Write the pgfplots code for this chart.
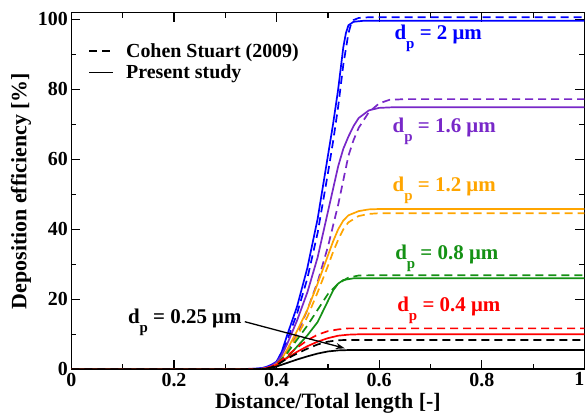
\documentclass[border=0pt]{standalone}
\usepackage{pgfplots}
\pgfplotsset{compat=1.18}
\usepackage{pgfplotstable}
\usepackage{fontspec}
\setmainfont{Liberation Serif}
\usetikzlibrary{arrows.meta}
\definecolor{cblue}{RGB}{0,0,255}
\definecolor{cpurple}{RGB}{120,40,200}
\definecolor{corange}{RGB}{255,165,0}
\definecolor{cgreen}{RGB}{20,145,20}
\definecolor{cred}{RGB}{255,0,0}

\pgfplotstableread{
x y
0 0
0.30 0
0.35 0.1
0.37 0.3
0.38 0.7
0.39 1.3
0.40 2.2
0.41 5
0.42 9.5
0.44 18
0.46 29
0.48 43
0.50 61
0.51 70
0.52 80
0.53 92
0.535 96
0.54 98.3
0.55 99.3
0.57 99.6
1.0 99.6
}\bluesolid
\pgfplotstableread{
x y
0 0
0.30 0
0.36 0.1
0.38 0.5
0.39 1.0
0.40 2.0
0.41 4
0.42 8
0.44 16
0.46 26
0.48 39
0.50 56
0.51 65
0.52 75
0.53 87
0.54 96
0.545 98.6
0.55 99.8
0.56 100.4
0.58 100.6
1.0 100.6
}\bluedash
\pgfplotstableread{
x y
0 0
0.30 0
0.37 0.2
0.38 0.5
0.39 1.0
0.40 2.0
0.41 4
0.42 7
0.44 14
0.46 22
0.48 32
0.50 45
0.52 58
0.53 63
0.54 66.5
0.55 69.5
0.56 71.8
0.58 74
0.60 74.7
0.63 74.9
1.0 74.9
}\purplesolid
\pgfplotstableread{
x y
0 0
0.30 0
0.37 0.1
0.38 0.4
0.39 0.8
0.40 1.5
0.41 3
0.42 5
0.44 10
0.46 17
0.48 25
0.50 35
0.52 47
0.53 54
0.54 61
0.55 65.5
0.56 69
0.58 73.5
0.60 76
0.62 77
0.65 77.2
1.0 77.2
}\purpledash
\pgfplotstableread{
x y
0 0
0.30 0
0.37 0.1
0.38 0.3
0.39 0.7
0.40 1.5
0.41 3
0.42 5.5
0.44 11
0.46 17
0.48 24.5
0.50 32.5
0.51 36.5
0.52 40
0.53 42.5
0.54 44
0.56 45.2
0.58 45.7
0.60 45.8
1.0 45.8
}\orangesolid
\pgfplotstableread{
x y
0 0
0.30 0
0.37 0.1
0.38 0.2
0.39 0.5
0.40 1.2
0.41 2.5
0.42 4.5
0.44 9.5
0.46 15
0.48 22
0.50 29.5
0.51 33.5
0.52 37
0.53 40
0.54 42
0.56 43.8
0.58 44.4
0.60 44.6
1.0 44.6
}\orangedash
\pgfplotstableread{
x y
0 0
0.30 0
0.37 0.1
0.38 0.2
0.39 0.5
0.40 1.0
0.42 3.3
0.44 6.5
0.46 9.7
0.48 13.5
0.50 19.5
0.51 22.5
0.52 24.5
0.53 25.5
0.55 26
1.0 26
}\greensolid
\pgfplotstableread{
x y
0 0
0.30 0
0.37 0.1
0.38 0.2
0.39 0.6
0.40 1.5
0.42 4.5
0.44 8.5
0.46 12.5
0.48 17
0.50 21.5
0.52 24.5
0.54 26.2
0.56 26.8
0.60 26.9
1.0 26.9
}\greendash
\pgfplotstableread{
x y
0 0
0.30 0
0.37 0.1
0.38 0.3
0.39 0.7
0.40 1.3
0.42 3.2
0.44 5
0.46 6.6
0.48 7.9
0.50 8.9
0.52 9.6
0.54 9.9
0.56 10
1.0 10
}\redsolid
\pgfplotstableread{
x y
0 0
0.30 0
0.37 0.1
0.38 0.3
0.39 0.8
0.40 1.6
0.42 3.8
0.44 6.2
0.46 8.3
0.48 9.9
0.50 10.9
0.52 11.4
0.54 11.7
1.0 11.7
}\reddash
\pgfplotstableread{
x y
0 0
0.30 0
0.37 0.05
0.38 0.1
0.39 0.4
0.40 0.8
0.42 1.8
0.44 2.8
0.46 3.7
0.48 4.5
0.50 5.1
0.52 5.4
0.54 5.5
1.0 5.5
}\blacksolid
\pgfplotstableread{
x y
0 0
0.30 0
0.37 0.1
0.38 0.2
0.39 0.6
0.40 1.2
0.42 3
0.44 4.5
0.46 5.9
0.48 7.1
0.50 7.9
0.52 8.3
0.54 8.4
1.0 8.4
}\blackdash

\newcommand{\dlab}[1]{d\raisebox{-0.42em}{\fontsize{15}{15}\selectfont p} = #1 μm}

\begin{document}
\begin{tikzpicture}
\begin{axis}[
  scale only axis,
  width=513bp, height=356.6bp,
  xmin=0, xmax=1, ymin=0, ymax=101.9,
  xtick={0,0.2,0.4,0.6,0.8,1},
  xticklabels={0,0.2,0.4,0.6,0.8,{\llap{1}}},
  minor xtick={0.1,0.3,0.5,0.7,0.9},
  ytick={0,20,40,60,80,100},
  minor ytick={10,30,50,70,90},
  tick align=inside,
  major tick length=9bp,
  minor tick length=5bp,
  axis line style={line width=1.6bp},
  every tick/.style={black, line width=1.2bp},
  /pgf/number format/assume math mode=true,
  tick label style={font=\bfseries\fontsize{20}{24}\selectfont},
  label style={font=\bfseries\fontsize{22}{26}\selectfont},
  xlabel={Distance/Total length [-]},
  ylabel={Deposition efficiency [\%]},
  legend style={at={(rel axis cs:0.027,0.925)}, anchor=north west, draw=none, fill=none,
    font=\bfseries\fontsize{20}{22}\selectfont, row sep=2bp},
  legend cell align=left,
  legend image code/.code={\draw[#1] (0bp,0bp) -- (24bp,0bp); \path (34bp,0bp);},
  every axis plot/.append style={line width=1.7bp},
]
\addlegendimage{black, line width=1.7bp, dash pattern=on 8bp off 5bp}
\addlegendentry{Cohen Stuart (2009)}
\addlegendimage{black, line width=1.7bp}
\addlegendentry{Present study}

\addplot[cblue, dash pattern=on 8bp off 5bp, forget plot] table {\bluedash};
\addplot[cblue, forget plot] table {\bluesolid};
\addplot[cpurple, dash pattern=on 8bp off 5bp, forget plot] table {\purpledash};
\addplot[cpurple, forget plot] table {\purplesolid};
\addplot[corange, dash pattern=on 8bp off 5bp, forget plot] table {\orangedash};
\addplot[corange, forget plot] table {\orangesolid};
\addplot[cgreen, dash pattern=on 8bp off 5bp, forget plot] table {\greendash};
\addplot[cgreen, forget plot] table {\greensolid};
\addplot[cred, dash pattern=on 8bp off 5bp, forget plot] table {\reddash};
\addplot[cred, forget plot] table {\redsolid};
\addplot[black, dash pattern=on 8bp off 5bp, forget plot] table {\blackdash};
\addplot[black, forget plot] table {\blacksolid};

\begin{scope}[every node/.style={anchor=base west, inner sep=0pt, font=\bfseries\fontsize{21}{24}\selectfont}]
\node[text=cblue] at (axis cs:0.6296,94.1) {\dlab{2}};
\node[text=cpurple] at (axis cs:0.626,67.6) {\dlab{1.6}};
\node[text=corange] at (axis cs:0.626,50.7) {\dlab{1.2}};
\node[text=cgreen] at (axis cs:0.631,31.4) {\dlab{0.8}};
\node[text=cred] at (axis cs:0.635,16.5) {\dlab{0.4}};
\node[text=black] at (axis cs:0.11,13.1) {\dlab{0.25}};
\end{scope}
\draw[-{Stealth[length=9bp,width=6bp]}, line width=1.3bp] (axis cs:0.338,13.6) -- (axis cs:0.533,6.0);
\end{axis}
\pgfresetboundingbox
\path[use as bounding box] ([shift={(-71.4bp,-50.7bp)}]current axis.south west) rectangle ([shift={(0.6bp,12.7bp)}]current axis.north east);
\end{tikzpicture}
\end{document}
